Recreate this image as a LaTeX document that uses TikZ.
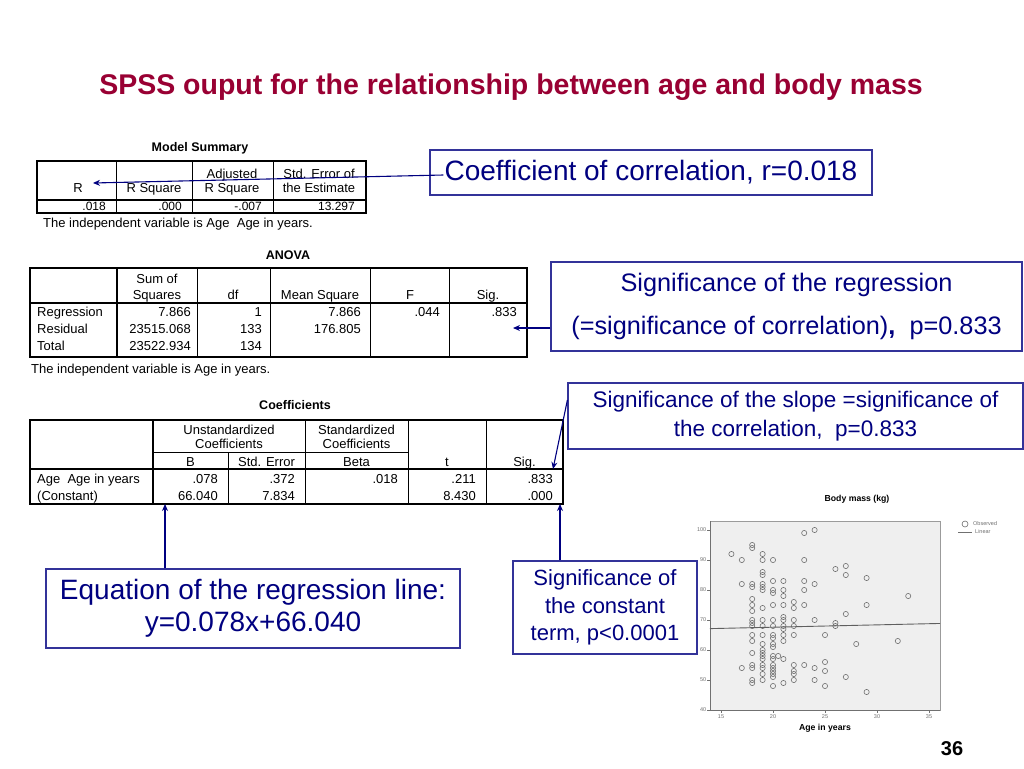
\documentclass[tikz,border=0pt]{standalone}
\usepackage{fontspec}
\setmainfont{Liberation Sans}
\usetikzlibrary{arrows.meta}
\definecolor{titlered}{HTML}{990033}
\definecolor{navy}{HTML}{000080}
\definecolor{boxblue}{HTML}{333399}
\definecolor{plotbg}{HTML}{EFEFEF}
\definecolor{plotgray}{HTML}{707070}
\begin{document}
\begin{tikzpicture}[x=1pt,y=-1pt,
  cell/.style={inner sep=0pt, font=\fontsize{13}{14.5}\selectfont},
  cellr/.style={cell, anchor=base east},
  cellc/.style={cell, anchor=base},
  celll/.style={cell, anchor=base west},
  tabtitle/.style={inner sep=0pt, font=\bfseries\fontsize{12.5}{14}\selectfont},
  thickrule/.style={line width=1.8pt},
  thinrule/.style={line width=0.8pt},
  callout/.style={draw=boxblue, line width=1.2pt, text=navy, align=center, inner sep=0pt},
  arr/.style={draw=navy, line width=1.1pt, -{Stealth[length=7pt,width=6pt]}},
  tick/.style={inner sep=0pt, text=plotgray, font=\fontsize{5.5}{6}\selectfont},
  axlabel/.style={inner sep=0pt, font=\bfseries\fontsize{8.7}{10}\selectfont},
  obs/.style={draw=plotgray, line width=0.6pt}]
\useasboundingbox (0,0) rectangle (1024,768);
\fill[white] (0,0) rectangle (1024,768);

% title
\node[font=\bfseries\fontsize{28.5}{32}\selectfont, text=titlered, inner sep=0pt] (title) at (511,87) {SPSS ouput for the relationship between age and body mass};

% ---------------- Model Summary
\node[tabtitle] (mstitle) at (200,148) {Model Summary};
\draw[thinrule] (116,161) -- (116,213) (192,161) -- (192,213) (273,161) -- (273,213);
\draw[thickrule] (37,200) -- (366,200);
\draw[thickrule] (37,161) rectangle (366,213);
\node[cellc] (msh1) at (78,192) {R};
\node[cellc] (msh2) at (154,192) {R Square};
\node[cellc] (msh3) at (232,178.5) {Adjusted};
\node[cellc] (msh4) at (232,192) {R Square};
\node[cellc] (msh5) at (319,178.5) {Std. Error of};
\node[cellc] (msh6) at (319,192) {the Estimate};
\node[cellr, font=\fontsize{12}{13}\selectfont] (msd1) at (106,210.8) {.018};
\node[cellr, font=\fontsize{12}{13}\selectfont] (msd2) at (182,210.8) {.000};
\node[cellr, font=\fontsize{12}{13}\selectfont] (msd3) at (262,210.8) {-.007};
\node[cellr, font=\fontsize{12}{13}\selectfont] (msd4) at (355,210.8) {13.297};
\node[celll] (msnote) at (43,227) {The independent variable is Age\ \ Age in years.};

% ---------------- ANOVA
\node[tabtitle] (antitle) at (288,255) {ANOVA};
\draw[thinrule] (197,268) -- (197,357) (270,268) -- (270,357) (370,268) -- (370,357) (449,268) -- (449,357);
\draw[thickrule] (117,268) -- (117,357);
\draw[thickrule] (30,303) -- (527,303);
\draw[thickrule] (30,268) rectangle (527,357);
\node[cellc] (anh1) at (157,283) {Sum of};
\node[cellc] (anh2) at (157,299) {Squares};
\node[cellc] (anh3) at (233,299) {df};
\node[cellc] (anh4) at (320,299) {Mean Square};
\node[cellc] (anh5) at (410,299) {F};
\node[cellc] (anh6) at (488,299) {Sig.};
\node[celll] (anr1) at (37,316.5) {Regression};
\node[celll] (anr2) at (37,333.5) {Residual};
\node[celll] (anr3) at (37,350.5) {Total};
\node[cellr] (and1) at (191,316.5) {7.866};
\node[cellr] (and2) at (262,316.5) {1};
\node[cellr] (and3) at (361,316.5) {7.866};
\node[cellr] (and4) at (440,316.5) {.044};
\node[cellr] (and5) at (517,316.5) {.833};
\node[cellr] (and6) at (191,333.5) {23515.068};
\node[cellr] (and7) at (262,333.5) {133};
\node[cellr] (and8) at (361,333.5) {176.805};
\node[cellr] (and9) at (191,350.5) {23522.934};
\node[cellr] (and10) at (262,350.5) {134};
\node[celll] (annote) at (31,373.5) {The independent variable is Age in years.};

% ---------------- Coefficients
\node[tabtitle] (cotitle) at (295,405) {Coefficients};
\draw[thinrule] (153,452) -- (408,452);
\draw[thinrule] (228,452) -- (228,504) (305,420) -- (305,504) (408,420) -- (408,504) (486,420) -- (486,504);
\draw[thickrule] (153,420) -- (153,504);
\draw[thickrule] (30,469) -- (563,469);
\draw[thickrule] (30,420) rectangle (563,504);
\node[cellc] (coh1) at (229,434.5) {Unstandardized};
\node[cellc] (coh2) at (229,448) {Coefficients};
\node[cellc] (coh3) at (356.5,434.5) {Standardized};
\node[cellc] (coh4) at (356.5,448) {Coefficients};
\node[cellc] (coh5) at (190.5,466) {B};
\node[cellc] (coh6) at (266.5,466) {Std. Error};
\node[cellc] (coh7) at (356.5,466) {Beta};
\node[cellc] (coh8) at (447,466) {t};
\node[cellc] (coh9) at (524.5,466) {Sig.};
\node[celll] (cor1) at (37,483.5) {Age\ \ Age in years};
\node[celll] (cor2) at (37,500) {(Constant)};
\node[cellr] (cod1) at (218,483.5) {.078};
\node[cellr] (cod2) at (295,483.5) {.372};
\node[cellr] (cod3) at (398,483.5) {.018};
\node[cellr] (cod4) at (476,483.5) {.211};
\node[cellr] (cod5) at (553,483.5) {.833};
\node[cellr] (cod6) at (218,500) {66.040};
\node[cellr] (cod7) at (295,500) {7.834};
\node[cellr] (cod8) at (476,500) {8.430};
\node[cellr] (cod9) at (553,500) {.000};

% ---------------- Callouts
\node[callout, minimum width=442pt, minimum height=45pt, font=\fontsize{28}{32}\selectfont] (coef) at (651,172.5) {Coefficient of correlation, r=0.018};
\node[callout, minimum width=471pt, minimum height=89pt, font=\fontsize{25.3}{43}\selectfont] (reg) at (786.5,306.5) {Significance of the regression\\(=significance of correlation){\bfseries ,}\ \ p=0.833};
\node[callout, minimum width=455pt, minimum height=66pt, font=\fontsize{22.5}{29}\selectfont] (slope) at (795.5,416) {Significance of the slope =significance of\\the correlation,\ \ p=0.833};
\node[callout, minimum width=184pt, minimum height=93pt, font=\fontsize{22}{27.5}\selectfont] (const) at (605,607.5) {Significance of\\the constant\\term, p<0.0001};
\node[callout, minimum width=414pt, minimum height=79pt, font=\fontsize{28}{32}\selectfont] (eq) at (253,608.5) {Equation of the regression line:\\y=0.078x+66.040};

\coordinate (rtip) at (93,183);
\coordinate (regtip) at (513,328);
\coordinate (slopetip) at (553,469);
\coordinate (consttip) at (560,504);
\coordinate (eqtip) at (165,504);
\draw[arr] ([xshift=14pt,yshift=-2.5pt]coef.west) -- (rtip);
\draw[arr] ([yshift=-21.5pt]reg.west) -- (regtip);
\draw[arr] ([yshift=16pt]slope.west) -- (slopetip);
\draw[arr] ([xshift=-45pt]const.north) -- (consttip);
\draw[arr] ([xshift=-88pt]eq.north) -- (eqtip);

% ---------------- Scatter plot
\node[axlabel] (ptitle) at (857,499) {Body mass (kg)};
\node[axlabel] (xlabel) at (825,728) {Age in years};
\begin{scope}[shift={(565pt,-830pt)}, x=10.4pt, y=3pt]
  \fill[plotbg] (13.94,40) rectangle (36.06,103);
  \draw[plotgray!70, line width=0.7pt] (13.94,40) rectangle (36.06,103);
  \draw[plotgray, line width=0.6pt] (13.94,103) -- (13.94,40) -- (36.06,40);
  \foreach \m in {40,50,...,100} {
    \draw[plotgray, line width=0.5pt] (13.94,\m) -- ++(-3pt,0);
    \node[tick, anchor=east] (yt\m) at ([xshift=-3.5pt]13.94,\m) {\m};
  }
  \foreach \a in {15,20,...,35} {
    \draw[plotgray, line width=0.5pt] (\a,40) -- ++(0,-3pt);
    \node[tick, anchor=north] (xt\a) at ([yshift=-4.5pt]\a,40) {\a};
  }
  \foreach \a/\m in {16/92, 17/90, 17/82, 17/54,
    18/95, 18/94, 18/82, 18/81, 18/77, 18/75, 18/73, 18/70, 18/69, 18/68, 18/65, 18/63, 18/59, 18/55, 18/54, 18/50, 18/49,
    19/92, 19/90, 19/86, 19/85, 19/82, 19/81, 19/80, 19/74, 19/70, 19/68, 19/65, 19/62, 19/60, 19/59, 19/58, 19/57, 19/55, 19/54, 19/52, 19/50,
    20/90, 20/83, 20/80, 20/79, 20/75, 20/70, 20/68, 20/65, 20/64, 20/62, 20/61, 20/58, 20/57, 20/55, 20/54, 20/53, 20/52, 20/51, 20/48,
    20.5/58,
    21/83, 21/80, 21/78, 21/75, 21/71, 21/70, 21/68, 21/67, 21/65, 21/63, 21/57, 21/49,
    22/76, 22/74, 22/70, 22/68, 22/65, 22/55, 22/53, 22/52, 22/50,
    23/99, 23/90, 23/83, 23/80, 23/75, 23/55,
    24/100, 24/82, 24/70, 24/54, 24/50,
    25/65, 25/56, 25/53, 25/48,
    26/87, 26/69, 26/68,
    27/88, 27/85, 27/72, 27/51,
    28/62, 29/84, 29/75, 29/46, 32/63, 33/78}
    \draw[obs] (\a,\m) circle[radius=2.6pt];
  \draw[plotgray!85!black, line width=0.9pt] (13.94,67.13) -- (36.06,68.85);
\end{scope}
% legend
\draw[obs, line width=0.6pt] (965,524) circle[radius=3pt];
\node[tick, anchor=west] (legobs) at (973,524) {Observed};
\draw[plotgray, line width=0.7pt] (958,532) -- (972,532);
\node[tick, anchor=west] (leglin) at (975,532) {Linear};

% page number
\node[font=\bfseries\fontsize{20}{22}\selectfont, inner sep=0pt] (pagenum) at (952,749) {36};
\end{tikzpicture}
\end{document}
